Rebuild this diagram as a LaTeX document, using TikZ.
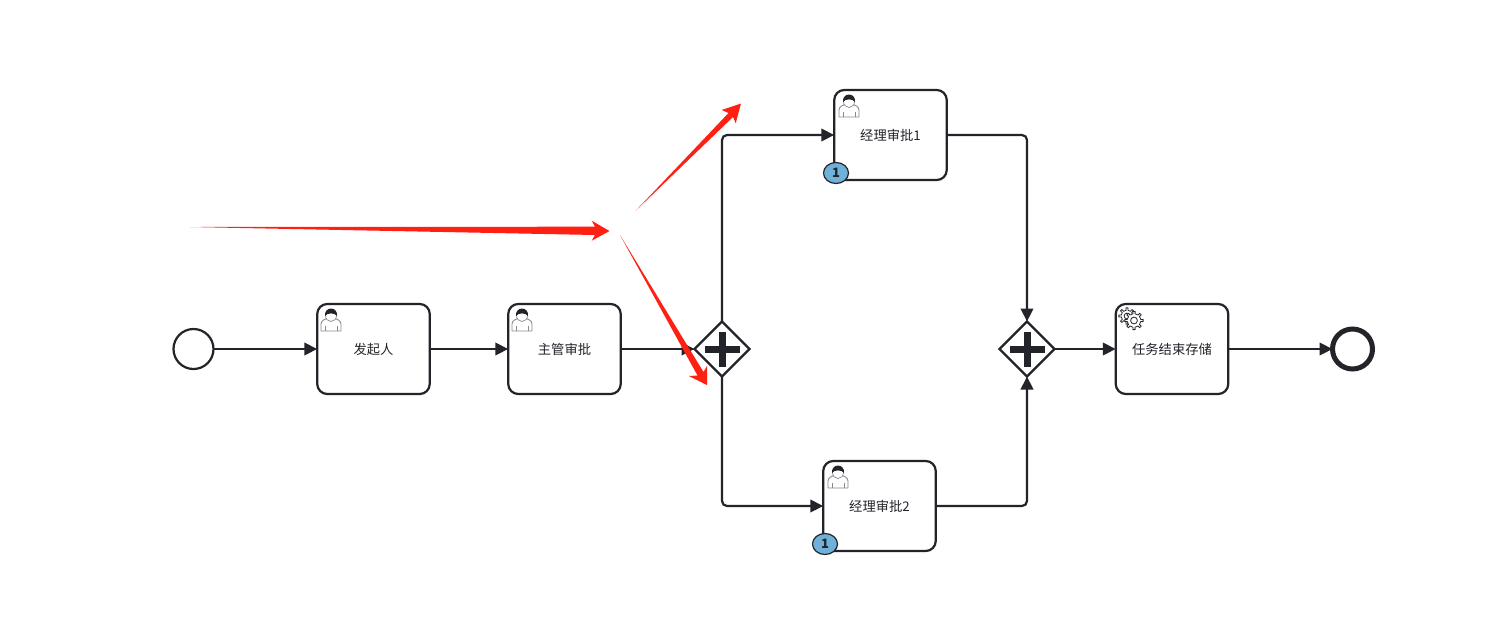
\documentclass[tikz,border=0pt]{standalone}
\usepackage{fontspec}
\setmainfont{Noto Sans CJK SC}
\usetikzlibrary{arrows.meta,shapes.geometric}
\definecolor{ink}{HTML}{22242A}
\definecolor{iconline}{HTML}{8A8A8A}
\definecolor{badgefill}{HTML}{6FB1D9}
\definecolor{redarrow}{HTML}{FF2014}
\tikzset{
  taskbox/.style={draw=ink,line width=2.2pt,rounded corners=10pt,fill=white,minimum width=112.5pt,minimum height=90pt,inner sep=0pt,outer sep=0pt,text=ink,font=\fontsize{13.3}{15}\selectfont},
  flow/.style={draw=ink,line width=2.2pt,rounded corners=5pt,-{Triangle[length=13pt,width=12.5pt]}},
  startev/.style={circle,draw=ink,line width=2.2pt,fill=white,minimum size=40pt,inner sep=0pt,outer sep=0pt},
  endev/.style={circle,draw=ink,line width=5pt,fill=white,minimum size=40pt,inner sep=0pt,outer sep=0pt},
  gate/.style={diamond,aspect=1,draw=ink,line width=2.2pt,fill=white,minimum size=55pt,inner sep=0pt,outer sep=0pt},
  plusbar/.style={fill=ink,draw=none},
  badge/.style={ellipse,draw=ink,line width=1.2pt,fill=badgefill,minimum width=25pt,minimum height=21pt,inner sep=0pt,text=ink,font=\fontsize{13}{13}\selectfont\bfseries},
  tail/.style={fill=redarrow,draw=none},
}
\newcommand{\userglyph}[2]{%
  \begin{scope}[shift={(#1,#2)}]
    \draw[iconline,line width=0.9pt,fill=white,line join=round]
      (-10,11) -- (-10,4) .. controls (-10,0) and (-5,-1) .. (-3,-2) -- (3,-2) .. controls (5,-1) and (10,0) .. (10,4) -- (10,11) -- cycle;
    \draw[iconline,line width=0.7pt] (-6,11) -- (-6,6) (6,11) -- (6,6);
    \draw[iconline,line width=0.7pt,fill=white] (0,-4.5) ellipse (5.5 and 6);
    \fill[ink] (-6,-4) .. controls (-7,-14) and (7,-14) .. (6,-4) .. controls (4,-7.5) and (-4,-7.5) .. (-6,-4) -- cycle;
  \end{scope}}
\newcommand{\gearglyph}[3]{%
  \begin{scope}[shift={(#1,#2)}]
    \draw[ink,line width=0.8pt,fill=white,line join=round]
      (-9:#3) \foreach \a in {0,45,...,315}{
        -- (\a-9:#3) -- (\a-7:#3+2.4) -- (\a+7:#3+2.4) -- (\a+9:#3) -- (\a+36:#3)
      } -- cycle;
    \draw[ink,line width=0.8pt,fill=white] (0,0) circle ({#3*0.5});
  \end{scope}}
\begin{document}
\begin{tikzpicture}[x=1pt,y=-1pt]
\useasboundingbox (0,0) rectangle (1500,633);
\fill[white] (0,0) rectangle (1500,633);

\node[startev] (start) at (193.5,349) {};
\node[taskbox] (t1) at (373.5,349) {发起人};
\node[taskbox] (t2) at (564.5,349) {主管审批};
\node[gate] (g1) at (722,349) {};
\node[taskbox] (t3) at (890.5,135) {经理审批1};
\node[taskbox] (t4) at (879.5,506) {经理审批2};
\node[gate] (g2) at (1027,349) {};
\node[taskbox] (t5) at (1172,349) {任务结束存储};
\node[endev] (stop) at (1352.5,349) {};

\draw[flow] (start) -- (t1);
\draw[flow] (t1) -- (t2);
\draw[flow] (t2) -- (g1);
\draw[flow] (g1.north) |- (t3.west);
\draw[flow] (g1.south) |- (t4.west);
\draw[flow] (t3.east) -| (g2.north);
\draw[flow] (t4.east) -| (g2.south);
\draw[flow] (g2) -- (t5);
\draw[flow] (t5) -- (stop);

\fill[plusbar] (704.5,345.5) rectangle (740,352.5);
\fill[plusbar] (718.5,331.5) rectangle (725.5,366.5);
\fill[plusbar] (1009.5,345.5) rectangle (1045,352.5);
\fill[plusbar] (1023.5,331.5) rectangle (1030.5,366.5);

\userglyph{331}{320}
\userglyph{522}{320}
\userglyph{849}{106}
\userglyph{838}{477}
\gearglyph{1127}{316}{5.8}
\gearglyph{1134}{320.5}{6.8}

\node[badge] (b1) at (836,173) {1};
\node[badge] (b2) at (825,544) {1};

\fill[tail] (190,227) -- (595,226.7) -- (591.7,220.7) -- (609.5,231) -- (591.7,240.7) -- (595,235) -- cycle;
\fill[tail] (635.7,210.7) -- (728.5,113) -- (721.7,110) -- (741,103.5) -- (735.7,123.3) -- (733,117) -- cycle;
\fill[tail] (620,235) -- (703.5,372) -- (707,366) -- (707,385) -- (689,376) -- (697.5,375.5) -- cycle;
\end{tikzpicture}
\end{document}
